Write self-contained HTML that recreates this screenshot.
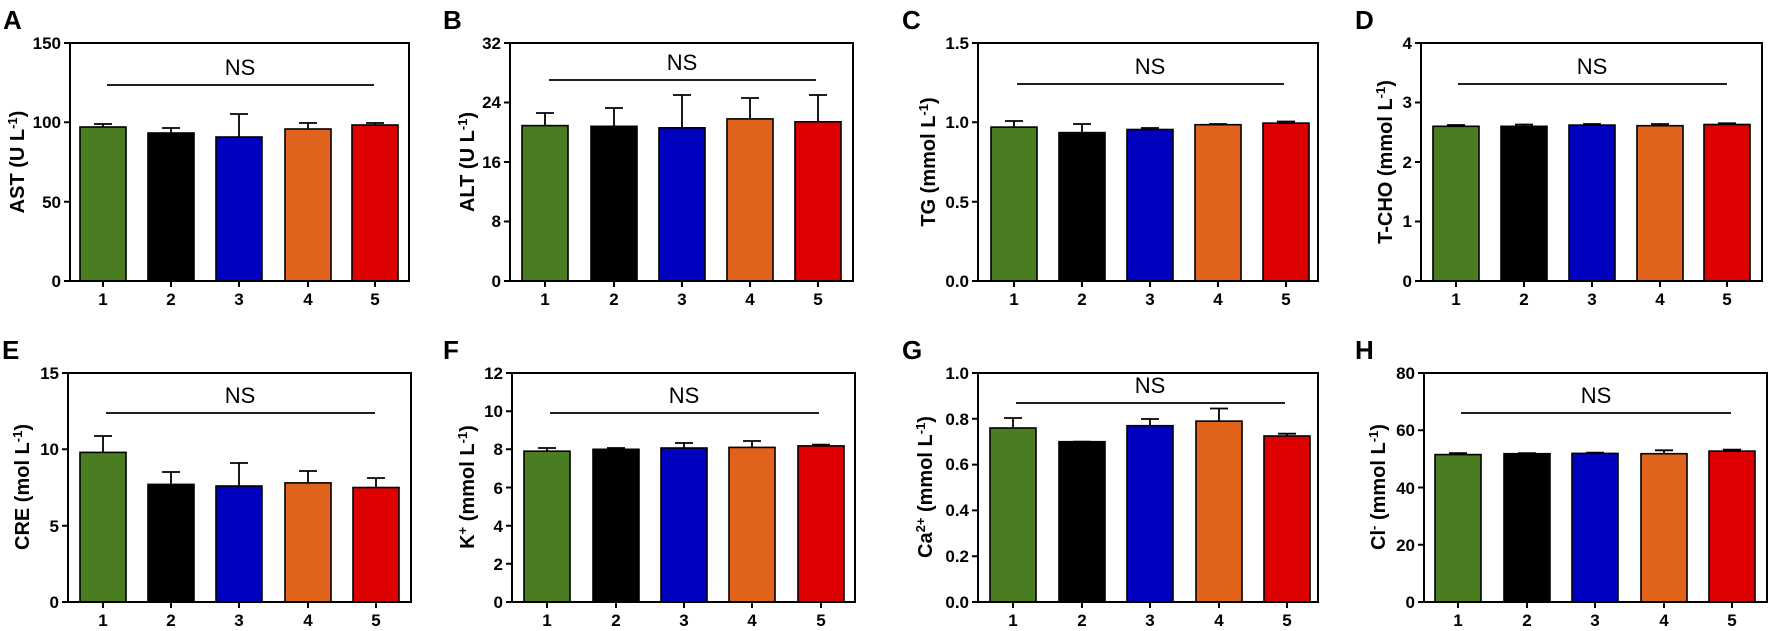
<!DOCTYPE html>
<html><head><meta charset="utf-8"><style>
body{margin:0;background:#fff}
svg{display:block}
text{font-family:"Liberation Sans",Arial,sans-serif;fill:#000}
.t{font-size:17px;font-weight:bold}
.l{font-size:26px;font-weight:bold}
.ns{font-size:22px}
.yl{font-size:20px;font-weight:bold}
.ax{stroke:#000;stroke-width:2;fill:none}
.b{stroke:#000;stroke-width:1.6}
.e{stroke:#000;stroke-width:1.8;fill:none}
</style></head><body>
<svg width="1772" height="631" viewBox="0 0 1772 631" xmlns="http://www.w3.org/2000/svg">
<text class="l" x="3" y="29">A</text>
<text class="l" x="443" y="29">B</text>
<text class="l" x="902" y="29">C</text>
<text class="l" x="1355" y="29">D</text>
<text class="l" x="2" y="359">E</text>
<text class="l" x="443" y="359">F</text>
<text class="l" x="902" y="359">G</text>
<text class="l" x="1355" y="359">H</text>

<!-- ===== A ===== -->
<g>
<path class="e" d="M103 127V124M94 124H112M171 133V128M162 128H180M239 137V114M230 114H248M308 129V123M299 123H317M375 125V123M366 123H384"/>
<rect class="b" x="80" y="127" width="46" height="154" fill="#4a7d21"/>
<rect class="b" x="148" y="133" width="46" height="148" fill="#000"/>
<rect class="b" x="216" y="137" width="46" height="144" fill="#0000bf"/>
<rect class="b" x="285" y="129" width="46" height="152" fill="#e0621b"/>
<rect class="b" x="352" y="125" width="46" height="156" fill="#dc0000"/>
<rect class="ax" x="70" y="43" width="339" height="238"/>
<path class="ax" d="M64 281H70M64 201.7H70M64 122.3H70M64 43H70M103 281V287M171 281V287M239 281V287M308 281V287M375 281V287"/>
<g class="t" text-anchor="end"><text x="61" y="287">0</text><text x="61" y="208">50</text><text x="61" y="128">100</text><text x="61" y="49">150</text></g>
<g class="t" text-anchor="middle"><text x="103" y="305">1</text><text x="171" y="305">2</text><text x="239" y="305">3</text><text x="308" y="305">4</text><text x="375" y="305">5</text></g>
<line x1="107" y1="85" x2="374" y2="85" class="e"/>
<text class="ns" x="240" y="75" text-anchor="middle">NS</text>
<text class="yl" transform="translate(24,162) rotate(-90)" text-anchor="middle">AST (U L<tspan dy="-7" font-size="13">-1</tspan><tspan dy="7">)</tspan></text>
</g>

<!-- ===== B ===== -->
<g>
<path class="e" d="M545 126V113M536 113H554M614 126V108M605 108H623M682 128V95M673 95H691M750 119V98M741 98H759M818 122V95M809 95H827"/>
<rect class="b" x="522" y="125.6" width="46" height="155.4" fill="#4a7d21"/>
<rect class="b" x="591" y="126.3" width="46" height="154.7" fill="#000"/>
<rect class="b" x="659" y="127.8" width="46" height="153.2" fill="#0000bf"/>
<rect class="b" x="727" y="118.9" width="46" height="162.1" fill="#e0621b"/>
<rect class="b" x="795" y="121.8" width="46" height="159.2" fill="#dc0000"/>
<rect class="ax" x="510" y="43" width="343" height="238"/>
<path class="ax" d="M504 281H510M504 221.5H510M504 162H510M504 102.5H510M504 43H510M545 281V287M614 281V287M682 281V287M750 281V287M818 281V287"/>
<g class="t" text-anchor="end"><text x="501" y="287">0</text><text x="501" y="227">8</text><text x="501" y="168">16</text><text x="501" y="108">24</text><text x="501" y="49">32</text></g>
<g class="t" text-anchor="middle"><text x="545" y="305">1</text><text x="614" y="305">2</text><text x="682" y="305">3</text><text x="750" y="305">4</text><text x="818" y="305">5</text></g>
<line x1="549" y1="80" x2="816" y2="80" class="e"/>
<text class="ns" x="682" y="70" text-anchor="middle">NS</text>
<text class="yl" transform="translate(474,162) rotate(-90)" text-anchor="middle">ALT (U L<tspan dy="-7" font-size="13">-1</tspan><tspan dy="7">)</tspan></text>
</g>

<!-- ===== C ===== -->
<g>
<path class="e" d="M1014 127V121M1005 121H1023M1082 133V124M1073 124H1091M1150 129V128M1141 128H1159M1218 125V124M1209 124H1227M1286 123V121.5M1277 121.5H1295"/>
<rect class="b" x="991" y="127.1" width="46" height="153.9" fill="#4a7d21"/>
<rect class="b" x="1059" y="132.6" width="46" height="148.4" fill="#000"/>
<rect class="b" x="1127" y="129.5" width="46" height="151.5" fill="#0000bf"/>
<rect class="b" x="1195" y="124.7" width="46" height="156.3" fill="#e0621b"/>
<rect class="b" x="1263" y="123.1" width="46" height="157.9" fill="#dc0000"/>
<rect class="ax" x="978" y="43" width="340" height="238"/>
<path class="ax" d="M972 281H978M972 201.7H978M972 122.3H978M972 43H978M1014 281V287M1082 281V287M1150 281V287M1218 281V287M1286 281V287"/>
<g class="t" text-anchor="end"><text x="969" y="287">0.0</text><text x="969" y="208">0.5</text><text x="969" y="128">1.0</text><text x="969" y="49">1.5</text></g>
<g class="t" text-anchor="middle"><text x="1014" y="305">1</text><text x="1082" y="305">2</text><text x="1150" y="305">3</text><text x="1218" y="305">4</text><text x="1286" y="305">5</text></g>
<line x1="1017" y1="84" x2="1284" y2="84" class="e"/>
<text class="ns" x="1150" y="74" text-anchor="middle">NS</text>
<text class="yl" transform="translate(935,162) rotate(-90)" text-anchor="middle">TG (mmol L<tspan dy="-7" font-size="13">-1</tspan><tspan dy="7">)</tspan></text>
</g>

<!-- ===== D ===== -->
<g>
<path class="e" d="M1456 126V125M1447 125H1465M1524 126V124.5M1515 124.5H1533M1592 125V124M1583 124H1601M1660 126V124M1651 124H1669M1727 124.5V123.3M1718 123.3H1736"/>
<rect class="b" x="1433" y="126.3" width="46" height="154.7" fill="#4a7d21"/>
<rect class="b" x="1501" y="126.3" width="46" height="154.7" fill="#000"/>
<rect class="b" x="1569" y="125.1" width="46" height="155.9" fill="#0000bf"/>
<rect class="b" x="1637" y="125.7" width="46" height="155.3" fill="#e0621b"/>
<rect class="b" x="1704" y="124.5" width="46" height="156.5" fill="#dc0000"/>
<rect class="ax" x="1421" y="43" width="341" height="238"/>
<path class="ax" d="M1415 281H1421M1415 221.5H1421M1415 162H1421M1415 102.5H1421M1415 43H1421M1456 281V287M1524 281V287M1592 281V287M1660 281V287M1727 281V287"/>
<g class="t" text-anchor="end"><text x="1412" y="287">0</text><text x="1412" y="227">1</text><text x="1412" y="168">2</text><text x="1412" y="108">3</text><text x="1412" y="49">4</text></g>
<g class="t" text-anchor="middle"><text x="1456" y="305">1</text><text x="1524" y="305">2</text><text x="1592" y="305">3</text><text x="1660" y="305">4</text><text x="1727" y="305">5</text></g>
<line x1="1458" y1="84" x2="1727" y2="84" class="e"/>
<text class="ns" x="1592" y="74" text-anchor="middle">NS</text>
<text class="yl" transform="translate(1392,162) rotate(-90)" text-anchor="middle">T-CHO (mmol L<tspan dy="-7" font-size="13">-1</tspan><tspan dy="7">)</tspan></text>
</g>

<!-- ===== E ===== -->
<g>
<path class="e" d="M103 452V436M94 436H112M171 484V472M162 472H180M239 486V463M230 463H248M308 483V471M299 471H317M376 487V478M367 478H385"/>
<rect class="b" x="80" y="452.4" width="46" height="149.6" fill="#4a7d21"/>
<rect class="b" x="148" y="484.4" width="46" height="117.6" fill="#000"/>
<rect class="b" x="216" y="486" width="46" height="116" fill="#0000bf"/>
<rect class="b" x="285" y="482.9" width="46" height="119.1" fill="#e0621b"/>
<rect class="b" x="353" y="487.5" width="46" height="114.5" fill="#dc0000"/>
<rect class="ax" x="68" y="373" width="343" height="229"/>
<path class="ax" d="M62 602H68M62 525.7H68M62 449.3H68M62 373H68M103 602V608M171 602V608M239 602V608M308 602V608M376 602V608"/>
<g class="t" text-anchor="end"><text x="59" y="608">0</text><text x="59" y="532">5</text><text x="59" y="455">10</text><text x="59" y="379">15</text></g>
<g class="t" text-anchor="middle"><text x="103" y="626">1</text><text x="171" y="626">2</text><text x="239" y="626">3</text><text x="308" y="626">4</text><text x="376" y="626">5</text></g>
<line x1="106" y1="413" x2="375" y2="413" class="e"/>
<text class="ns" x="240" y="403" text-anchor="middle">NS</text>
<text class="yl" transform="translate(29,487) rotate(-90)" text-anchor="middle">CRE (mol L<tspan dy="-7" font-size="13">-1</tspan><tspan dy="7">)</tspan></text>
</g>

<!-- ===== F ===== -->
<g>
<path class="e" d="M547 451V448M538 448H556M616 449V448M607 448H625M684 448V443M675 443H693M752 447V441M743 441H761M821 446V444.6M812 444.6H830"/>
<rect class="b" x="524" y="451.2" width="46" height="150.8" fill="#4a7d21"/>
<rect class="b" x="593" y="449.3" width="46" height="152.7" fill="#000"/>
<rect class="b" x="661" y="448" width="46" height="154" fill="#0000bf"/>
<rect class="b" x="729" y="447.4" width="46" height="154.6" fill="#e0621b"/>
<rect class="b" x="798" y="445.9" width="46" height="156.1" fill="#dc0000"/>
<rect class="ax" x="512" y="373" width="343" height="229"/>
<path class="ax" d="M506 602H512M506 563.8H512M506 525.7H512M506 487.5H512M506 449.3H512M506 411.2H512M506 373H512M547 602V608M616 602V608M684 602V608M752 602V608M821 602V608"/>
<g class="t" text-anchor="end"><text x="503" y="608">0</text><text x="503" y="570">2</text><text x="503" y="532">4</text><text x="503" y="494">6</text><text x="503" y="455">8</text><text x="503" y="417">10</text><text x="503" y="379">12</text></g>
<g class="t" text-anchor="middle"><text x="547" y="626">1</text><text x="616" y="626">2</text><text x="684" y="626">3</text><text x="752" y="626">4</text><text x="821" y="626">5</text></g>
<line x1="550" y1="413" x2="819" y2="413" class="e"/>
<text class="ns" x="684" y="403" text-anchor="middle">NS</text>
<text class="yl" transform="translate(474,487) rotate(-90)" text-anchor="middle">K<tspan dy="-7" font-size="13">+</tspan><tspan dy="7"> (mmol L</tspan><tspan dy="-7" font-size="13">-1</tspan><tspan dy="7">)</tspan></text>
</g>

<!-- ===== G ===== -->
<g>
<path class="e" d="M1013 428V418M1004 418H1022M1082 442V441.7M1073 441.7H1091M1150 426V419M1141 419H1159M1219 421V408.5M1210 408.5H1228M1287 436V433.7M1278 433.7H1296"/>
<rect class="b" x="990" y="428" width="46" height="174" fill="#4a7d21"/>
<rect class="b" x="1059" y="441.7" width="46" height="160.3" fill="#000"/>
<rect class="b" x="1127" y="425.7" width="46" height="176.3" fill="#0000bf"/>
<rect class="b" x="1196" y="421.1" width="46" height="180.9" fill="#e0621b"/>
<rect class="b" x="1264" y="436" width="46" height="166" fill="#dc0000"/>
<rect class="ax" x="978" y="373" width="340" height="229"/>
<path class="ax" d="M972 602H978M972 556.2H978M972 510.4H978M972 464.6H978M972 418.8H978M972 373H978M1013 602V608M1082 602V608M1150 602V608M1219 602V608M1287 602V608"/>
<g class="t" text-anchor="end"><text x="969" y="608">0.0</text><text x="969" y="562">0.2</text><text x="969" y="516">0.4</text><text x="969" y="470">0.6</text><text x="969" y="425">0.8</text><text x="969" y="379">1.0</text></g>
<g class="t" text-anchor="middle"><text x="1013" y="626">1</text><text x="1082" y="626">2</text><text x="1150" y="626">3</text><text x="1219" y="626">4</text><text x="1287" y="626">5</text></g>
<line x1="1016" y1="403" x2="1285" y2="403" class="e"/>
<text class="ns" x="1150" y="393" text-anchor="middle">NS</text>
<text class="yl" transform="translate(932,487) rotate(-90)" text-anchor="middle">Ca<tspan dy="-7" font-size="13">2+</tspan><tspan dy="7"> (mmol L</tspan><tspan dy="-7" font-size="13">-1</tspan><tspan dy="7">)</tspan></text>
</g>

<!-- ===== H ===== -->
<g>
<path class="e" d="M1458 454.6V453.2M1449 453.2H1467M1527 453.7V453.2M1518 453.2H1536M1595 453.4V452.6M1586 452.6H1604M1664 453.7V450.3M1655 450.3H1673M1732 451V449.7M1723 449.7H1741"/>
<rect class="b" x="1435" y="454.6" width="46" height="147.4" fill="#4a7d21"/>
<rect class="b" x="1504" y="453.7" width="46" height="148.3" fill="#000"/>
<rect class="b" x="1572" y="453.4" width="46" height="148.6" fill="#0000bf"/>
<rect class="b" x="1641" y="453.7" width="46" height="148.3" fill="#e0621b"/>
<rect class="b" x="1709" y="451.1" width="46" height="150.9" fill="#dc0000"/>
<rect class="ax" x="1424" y="373" width="343" height="229"/>
<path class="ax" d="M1418 602H1424M1418 544.75H1424M1418 487.5H1424M1418 430.25H1424M1418 373H1424M1458 602V608M1527 602V608M1595 602V608M1664 602V608M1732 602V608"/>
<g class="t" text-anchor="end"><text x="1415" y="608">0</text><text x="1415" y="551">20</text><text x="1415" y="494">40</text><text x="1415" y="436">60</text><text x="1415" y="379">80</text></g>
<g class="t" text-anchor="middle"><text x="1458" y="626">1</text><text x="1527" y="626">2</text><text x="1595" y="626">3</text><text x="1664" y="626">4</text><text x="1732" y="626">5</text></g>
<line x1="1461" y1="413" x2="1731" y2="413" class="e"/>
<text class="ns" x="1596" y="403" text-anchor="middle">NS</text>
<text class="yl" transform="translate(1385,487) rotate(-90)" text-anchor="middle">Cl<tspan dy="-7" font-size="13">-</tspan><tspan dy="7"> (mmol L</tspan><tspan dy="-7" font-size="13">-1</tspan><tspan dy="7">)</tspan></text>
</g>
</svg>
</body></html>
